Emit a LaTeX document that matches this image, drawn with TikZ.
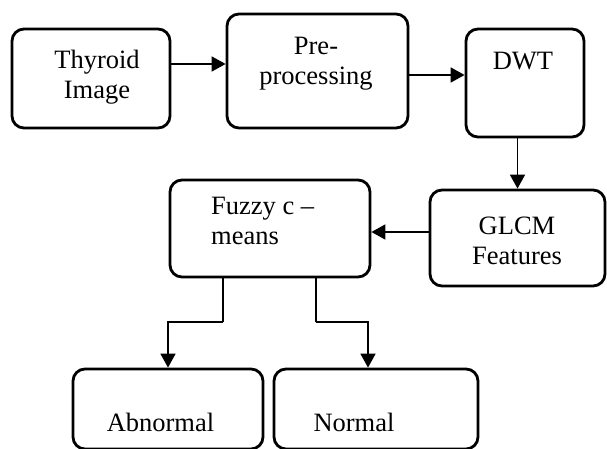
\documentclass[tikz,border=0pt]{standalone}
\usepackage{fontspec}
\setmainfont{Liberation Serif}
\usetikzlibrary{arrows.meta}

\tikzset{
  blok/.style={draw, line width=2.8pt, rounded corners=12pt, inner sep=0pt},
  txt/.style={inner sep=0pt, align=center, font=\fontsize{26.5}{30}\selectfont},
  arr/.style={line width=1.8pt, -{Triangle[width=15pt, length=14pt]}}
}

\begin{document}
\begin{tikzpicture}[x=1pt, y=-1pt]

  % === Frame ===
  \useasboundingbox (0, 0) rectangle (607, 449);

  % === Top row ===
  \node[blok, minimum width=158pt, minimum height=99pt] (thyroid) at (91, 78.5) {};
  \node[blok, minimum width=181pt, minimum height=114pt] (prep) at (317.5, 71) {};
  \node[blok, minimum width=118pt, minimum height=108pt] (dwt) at (525, 83) {};

  \node[txt] (thyroidtxt) at (97, 77) {Thyroid\\Image};
  \node[txt] (preptxt) at (316, 64) {Pre-\\processing};
  \node[txt] (dwttxt) at (523, 61) {DWT};

  % === Middle row ===
  \node[blok, minimum width=200pt, minimum height=97pt] (fuzzy) at (270, 228.5) {};
  \node[blok, minimum width=175pt, minimum height=96pt] (glcm) at (517.5, 238) {};

  \node[txt, anchor=west, align=left] (fuzzytxt) at (211, 221) {Fuzzy c --\\means};
  \node[txt] (glcmtxt) at (517, 241) {GLCM\\Features};

  % === Bottom row (cut off by the frame) ===
  \node[blok, minimum width=190pt, minimum height=80pt] (abn) at (168, 409) {};
  \node[blok, minimum width=204pt, minimum height=80pt] (norm) at (376, 409) {};

  \node[txt] (abntxt) at (160.5, 422) {Abnormal};
  \node[txt] (normtxt) at (354, 422) {Normal};

  % === Connectors ===
  \coordinate (r1) at (0, 64);
  \coordinate (r2) at (0, 75);
  \coordinate (r3) at (0, 232);
  \draw[arr] (thyroid.east |- r1) -- (prep.west |- r1);
  \draw[arr] (prep.east |- r2) -- (dwt.west |- r2);
  \draw[arr] (dwt.south -| glcm.north) -- (glcm.north);
  \draw[arr] (glcm.west |- r3) -- (fuzzy.east |- r3);

  % split below fuzzy c-means, elbows at y = 322
  \coordinate (fl) at (223, 322);
  \coordinate (fr) at (316, 322);
  \coordinate (nr) at (368, 0);
  \draw[line width=1.8pt] (fuzzy.south -| fl) -- (fl);
  \draw[arr] (fl) -| (abn.north);
  \draw[line width=1.8pt] (fuzzy.south -| fr) -- (fr);
  \draw[arr] (fr) -| (norm.north -| nr);

\end{tikzpicture}
\end{document}
